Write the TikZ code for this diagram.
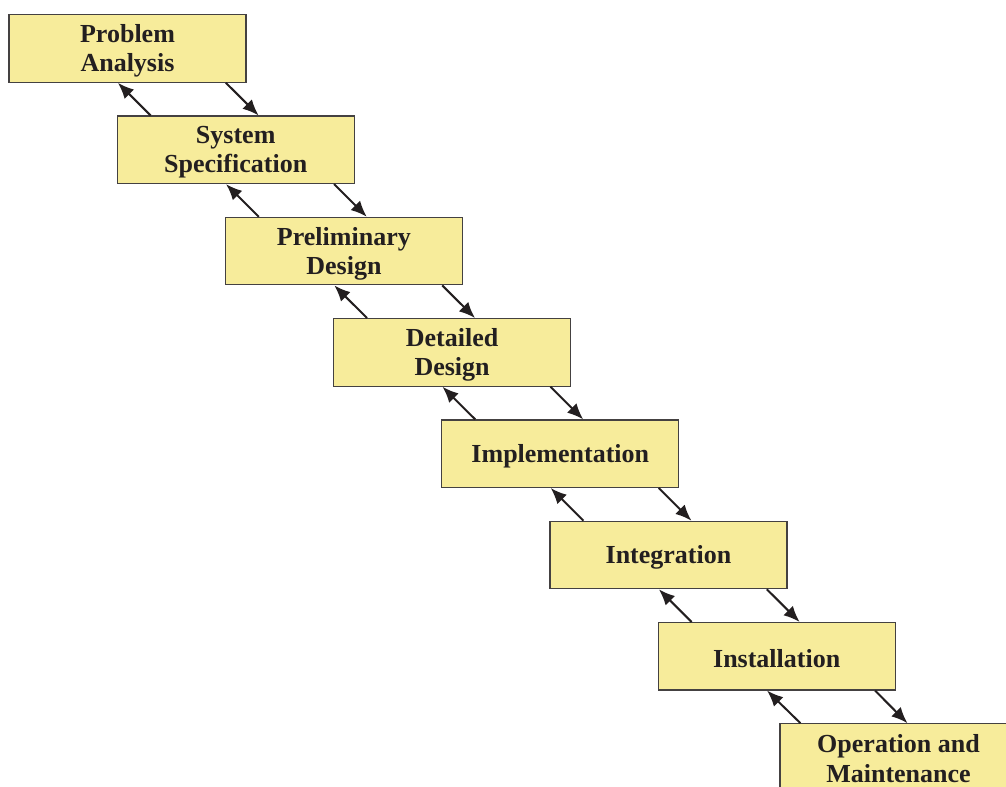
\documentclass[tikz,border=0pt]{standalone}
\usepackage{fontspec}
\setmainfont{Liberation Serif}
\usetikzlibrary{arrows.meta,calc}
\definecolor{stagefill}{HTML}{F7EC9B}
\definecolor{ink}{HTML}{231F20}
\begin{document}
\begin{tikzpicture}[x=0.75pt,y=-0.75pt,
  stage/.style={draw=ink!85, line width=0.9pt, fill=stagefill,
    minimum width=177.75pt, minimum height=50.6pt, inner sep=0pt},
  lbl/.style={text=ink, align=center, inner sep=0pt,
    font=\fontsize{19.5}{22}\selectfont\bfseries},
  flow/.style={draw=ink, line width=1.5pt,
    -{Latex[length=12pt,width=10pt]}}]
\clip (0,0) rectangle (1006,787);
% staircase of stages
\node[stage] (b0) at (127.5, 48.5) {};
\node[stage] (b1) at (235.7,149.8) {};
\node[stage] (b2) at (343.9,251.1) {};
\node[stage] (b3) at (452.1,352.4) {};
\node[stage] (b4) at (560.3,453.7) {};
\node[stage] (b5) at (668.5,555.0) {};
\node[stage] (b6) at (776.7,656.3) {};
\node[stage] (b7) at (898.5,757.5) {};
% stage names, set a little below the geometric centre
\node[lbl] (t0) at ($(b0)+(0,2.5)$) {Problem\\Analysis};
\node[lbl] (t1) at ($(b1)+(0,2.5)$) {System\\Specification};
\node[lbl] (t2) at ($(b2)+(0,2.5)$) {Preliminary\\Design};
\node[lbl] (t3) at ($(b3)+(0,2.5)$) {Detailed\\Design};
\node[lbl] (t4) at ($(b4)+(0,2.5)$) {Implementation};
\node[lbl] (t5) at ($(b5)+(0,2.5)$) {Integration};
\node[lbl] (t6) at ($(b6)+(0,2.5)$) {Installation};
\node[lbl] (t7) at ($(b7)+(0,1)$) {Operation and\\Maintenance};
% forward and feedback arrows between neighbouring stages
\foreach \i/\j/\up/\dn in {b0/b1/34/142, b1/b2/34/142, b2/b3/34/142,
    b3/b4/34/142, b4/b5/34/142, b5/b6/34/142, b6/b7/21/128} {
  \draw[flow] ($(\j.north west)+(\up,0)$) -- ($(\i.south west)+(109.5,0)$);
  \draw[flow] ($(\i.south west)+(217.5,0)$) -- ($(\j.north west)+(\dn,0)$);
}
\end{tikzpicture}
\end{document}
